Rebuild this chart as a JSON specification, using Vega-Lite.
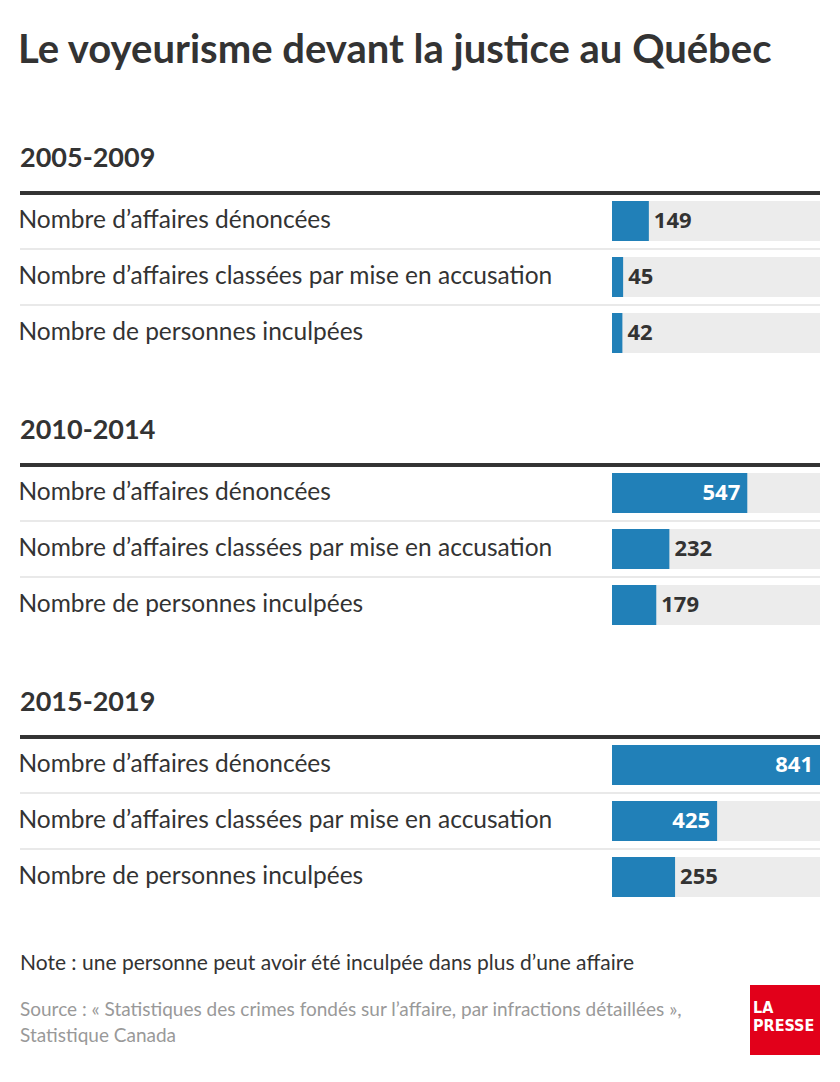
{
  "$schema": "https://vega.github.io/schema/vega-lite/v6.json",
  "background": "white",
  "padding": {"left": 18, "right": 22, "top": 31, "bottom": 0},
  "config": {"view": {"stroke": null}, "font": "Lato"},
  "title": {
    "text": "Le voyeurisme devant la justice au Québec",
    "anchor": "start",
    "font": "Lato",
    "fontSize": 40,
    "fontWeight": "bold",
    "color": "#333333",
    "offset": 74
  },
  "spacing": 48,
  "vconcat": [
    {
      "data": {
        "values": [
          {"period": "2005-2009", "metric": "Nombre d’affaires dénoncées", "value": 149},
          {"period": "2005-2009", "metric": "Nombre d’affaires classées par mise en accusation", "value": 45},
          {"period": "2005-2009", "metric": "Nombre de personnes inculpées", "value": 42},
          {"period": "2010-2014", "metric": "Nombre d’affaires dénoncées", "value": 547},
          {"period": "2010-2014", "metric": "Nombre d’affaires classées par mise en accusation", "value": 232},
          {"period": "2010-2014", "metric": "Nombre de personnes inculpées", "value": 179},
          {"period": "2015-2019", "metric": "Nombre d’affaires dénoncées", "value": 841},
          {"period": "2015-2019", "metric": "Nombre d’affaires classées par mise en accusation", "value": 425},
          {"period": "2015-2019", "metric": "Nombre de personnes inculpées", "value": 255}
        ]
      },
      "columns": 1,
      "spacing": 56,
      "facet": {
        "field": "period",
        "type": "nominal",
        "title": null,
        "sort": ["2005-2009", "2010-2014", "2015-2019"],
        "header": {
          "labelAnchor": "start",
          "labelFont": "Lato",
          "labelFontSize": 27,
          "labelFontWeight": "bold",
          "labelColor": "#333333",
          "labelPadding": 18
        }
      },
      "spec": {
        "width": 800,
        "height": 168,
        "encoding": {
          "y": {
            "field": "metric",
            "type": "nominal",
            "sort": null,
            "scale": {"paddingInner": 0, "paddingOuter": 0},
            "axis": {
              "title": null,
              "domain": false,
              "ticks": false,
              "tickSize": 0,
              "labelPadding": 0,
              "labelAlign": "left",
              "labelBaseline": "middle",
              "labelFont": "Lato",
              "labelFontSize": 24.5,
              "labelColor": "#333333",
              "labelLimit": 600,
              "grid": false
            }
          }
        },
        "layer": [
          {
            "mark": {"type": "rule", "color": "#e9e9e9", "strokeWidth": 2},
            "encoding": {
              "y": {"field": "metric", "type": "nominal", "sort": null, "bandPosition": 0}
            }
          },
          {
            "mark": {"type": "rule", "color": "#333333", "strokeWidth": 3.5},
            "encoding": {
              "y": {"datum": "Nombre d’affaires dénoncées", "type": "nominal", "bandPosition": 0}
            }
          },
          {
            "mark": {"type": "bar", "color": "#ececec", "height": {"band": 0.714}},
            "encoding": {
              "x": {"datum": 841, "type": "quantitative", "scale": {"domain": [0, 841], "range": [592, 800], "nice": false, "zero": true}, "axis": null}
            }
          },
          {
            "mark": {"type": "bar", "color": "#2180b8", "height": {"band": 0.714}},
            "encoding": {
              "x": {"field": "value", "type": "quantitative", "axis": null}
            }
          },
          {
            "transform": [{"filter": "datum.value > 400"}],
            "mark": {"type": "text", "align": "right", "baseline": "middle", "dx": -7, "font": "Open Sans", "fontWeight": "bold", "fontSize": 22, "color": "white"},
            "encoding": {
              "x": {"field": "value", "type": "quantitative"},
              "text": {"field": "value", "type": "quantitative"}
            }
          },
          {
            "transform": [{"filter": "datum.value <= 400"}],
            "mark": {"type": "text", "align": "left", "baseline": "middle", "dx": 5, "font": "Open Sans", "fontWeight": "bold", "fontSize": 22, "color": "#333333"},
            "encoding": {
              "x": {"field": "value", "type": "quantitative"},
              "text": {"field": "value", "type": "quantitative"}
            }
          }
        ]
      }
    },
    {
      "data": {
        "values": [
          {
            "source": ["Source : « Statistiques des crimes fondés sur l’affaire, par infractions détaillées »,", "Statistique Canada"],
            "logo": ["LA", "PRESSE"]
          }
        ]
      },
      "width": 800,
      "height": 70,
      "title": {
        "text": "Note : une personne peut avoir été inculpée dans plus d’une affaire",
        "anchor": "start",
        "font": "Lato",
        "fontSize": 21,
        "fontWeight": "normal",
        "color": "#333333",
        "offset": 11
      },
      "layer": [
        {
          "mark": {"type": "text", "align": "left", "baseline": "alphabetic", "font": "Lato", "fontSize": 19, "color": "#999999", "lineHeight": 26},
          "encoding": {
            "x": {"value": 0},
            "y": {"value": 31},
            "text": {"field": "source"}
          }
        },
        {
          "mark": {"type": "rect", "color": "#e2001a"},
          "encoding": {
            "x": {"value": 730},
            "x2": {"value": 800},
            "y": {"value": 0},
            "y2": {"value": 70}
          }
        },
        {
          "mark": {"type": "text", "align": "left", "baseline": "alphabetic", "font": "DejaVu Sans Condensed", "fontWeight": "bold", "fontSize": 16, "color": "white", "lineHeight": 18},
          "encoding": {
            "x": {"value": 733},
            "y": {"value": 28},
            "text": {"field": "logo"}
          }
        }
      ]
    }
  ]
}
